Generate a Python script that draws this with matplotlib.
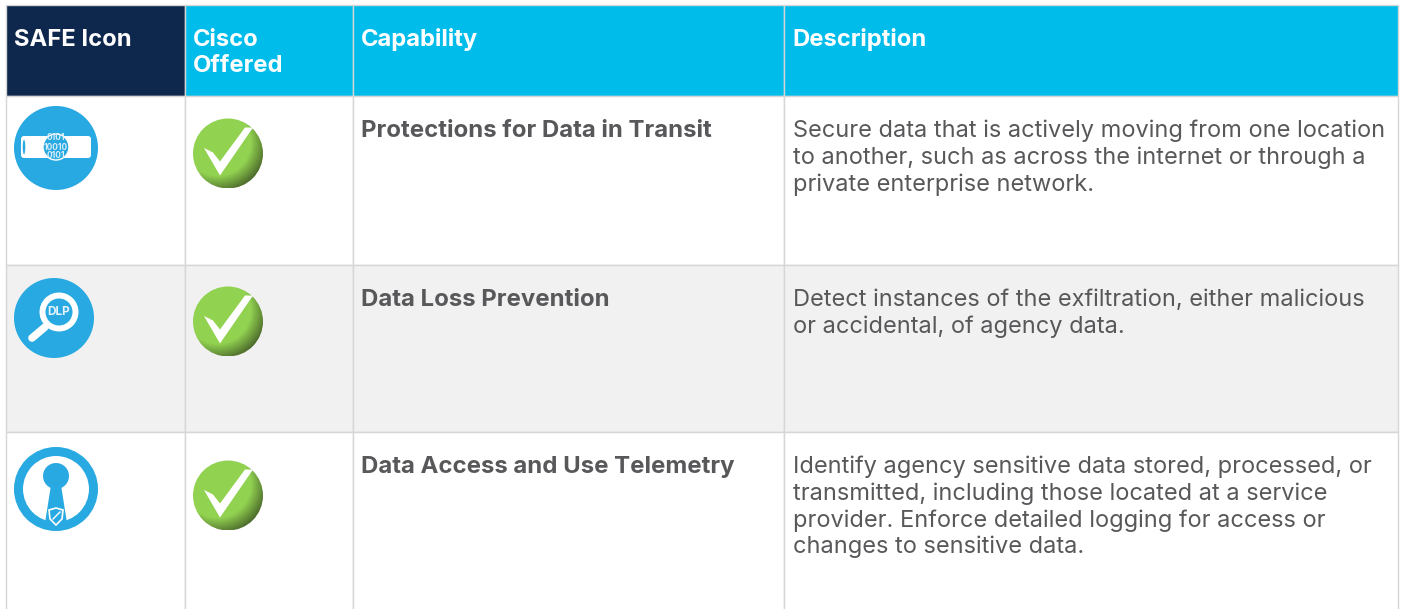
import numpy as np
import matplotlib
matplotlib.use('Agg')
import matplotlib.pyplot as plt
from matplotlib.patches import Circle, Rectangle, Polygon, Ellipse, FancyBboxPatch

# table content
headers = ['SAFE Icon', 'Cisco\nOffered', 'Capability', 'Description']
capabilities = ['Protections for Data in Transit', 'Data Loss Prevention', 'Data Access and Use Telemetry']
descriptions = [
    'Secure data that is actively moving from one location\nto another, such as across the internet or through a\nprivate enterprise network.',
    'Detect instances of the exfiltration, either malicious\nor accidental, of agency data.',
    'Identify agency sensitive data stored, processed, or\ntransmitted, including those located at a service\nprovider. Enforce detailed logging for access or\nchanges to sensitive data.',
]
offered = [True, True, True]

# layout in pixels
col_x = [6, 185, 353, 784, 1398]
row_y = [5, 96, 265, 432, 612]
row_fill = ['white', '#f1f1f1', 'white']
cap_y = [137, 306, 473]
desc_y = [137.5, 306, 473.5]
check_y = [153.5, 321.5, 495.5]

NAVY = '#0d274d'
CYAN = '#00bceb'
BLUE = '#29a9e1'
GRID = '#d6d6d6'
TEXT = '#58585b'

plt.rcParams['font.family'] = ['Inter', 'DejaVu Sans']

fig = plt.figure(figsize=(14.03, 6.09), dpi=100)
ax = fig.add_axes([0, 0, 1, 1])
ax.axis('off')


def cell(x0, x1, y0, y1, color):
    ax.add_patch(Rectangle((x0, y0), x1 - x0, y1 - y0, fc=color, ec=GRID, lw=1.0, zorder=1))


def check_icon(cx, cy, r=35):
    # shaded green ball, darker towards lower right
    n = 160
    xs, ys = np.meshgrid(np.linspace(-1, 1, n), np.linspace(-1, 1, n))
    d = np.hypot(xs + 0.3, ys + 0.3)
    t = np.clip((d - 0.95) / 0.48, 0, 1)[..., None]
    light = np.array([0.573, 0.827, 0.318])
    dark = np.array([0.30, 0.42, 0.17])
    img = light * (1 - t) + dark * t
    im = ax.imshow(img, extent=(cx - r, cx + r, cy + r, cy - r), zorder=3, interpolation='bilinear')
    im.set_clip_path(Circle((cx, cy), r, transform=ax.transData))
    pts = [(-24, -5.5), (-15, -1), (-8, 8), (17, -26), (25, -26), (-8, 22)]
    ax.add_patch(Polygon([(cx + a, cy + b) for a, b in pts], fc='white', ec='none', zorder=4))


def pipe_icon(cx, cy, r=42):
    ax.add_patch(Circle((cx, cy), r, fc=BLUE, ec='none', zorder=3))
    ax.add_patch(FancyBboxPatch((cx - 35, cy - 12), 70, 22, boxstyle='round,pad=0,rounding_size=3',
                                fc='white', ec='none', zorder=4))
    ax.add_patch(Ellipse((cx - 32, cy - 1), 4, 17, fc=BLUE, ec='white', lw=1, zorder=5))
    ax.add_patch(Circle((cx, cy - 1), 13, fc=BLUE, ec='white', lw=1.0, zorder=5))
    ax.text(cx, cy - 1, '0101\n10010\n0101', color='#d8eefa', fontsize=6, weight='bold', ha='center',
            va='center', linespacing=1.0, zorder=6)


def dlp_icon(cx, cy, r=40):
    ax.add_patch(Circle((cx, cy), r, fc=BLUE, ec='none', zorder=3))
    ax.plot([cx - 22, cx - 9], [cy + 20, cy + 9], color='white', lw=5.5, solid_capstyle='round', zorder=4)
    ax.add_patch(Circle((cx + 5, cy - 6), 16.5, fc=BLUE, ec='white', lw=4.3, zorder=5))
    ax.text(cx + 5, cy - 6, 'DLP', color='#e8f4fb', fontsize=8.5, weight='bold', ha='center', va='center', zorder=6)


def key_icon(cx, cy, r=42):
    ax.add_patch(Circle((cx, cy), r, fc='white', ec='none', zorder=3))
    ax.add_patch(Circle((cx, cy), r - 4.5, fc='none', ec=BLUE, lw=6.5, zorder=5))
    ax.add_patch(Circle((cx, cy - 13), 13, fc=BLUE, ec='none', zorder=4))
    ax.add_patch(Polygon([(cx - 5, cy - 4), (cx + 5, cy - 4), (cx + 11, cy + 34), (cx - 11, cy + 34)],
                         fc=BLUE, ec='none', zorder=4))
    shield = [(cx - 7, cy + 21), (cx, cy + 19), (cx + 7, cy + 21), (cx + 6, cy + 30), (cx, cy + 36),
              (cx - 6, cy + 30)]
    ax.add_patch(Polygon(shield, fc=BLUE, ec='white', lw=1.2, zorder=6))
    ax.plot([cx - 3, cx + 4], [cy + 30, cy + 23], color='white', lw=1, zorder=7)


# header row
for i, h in enumerate(headers):
    cell(col_x[i], col_x[i + 1], row_y[0], row_y[1], NAVY if i == 0 else CYAN)
    for j, line in enumerate(h.split('\n')):
        ax.text(col_x[i] + 8, 46 + j * 26, line, color='white', fontsize=17.1, weight='bold',
                ha='left', va='baseline', zorder=5)

# body rows
for r in range(3):
    for c in range(4):
        cell(col_x[c], col_x[c + 1], row_y[r + 1], row_y[r + 2], row_fill[r])
    ax.text(col_x[2] + 8, cap_y[r], capabilities[r], color=TEXT, fontsize=17.25,
            weight='bold', ha='left', va='baseline', zorder=5)
    for j, line in enumerate(descriptions[r].split('\n')):
        ax.text(col_x[3] + 9, desc_y[r] + j * 26.5, line, color=TEXT, fontsize=16.95, ha='left',
                va='baseline', zorder=5)
    if offered[r]:
        check_icon(228, check_y[r])

pipe_icon(56, 148)
dlp_icon(54, 318)
key_icon(56, 489)

ax.set_xlim(0, 1403)
ax.set_ylim(609, 0)
ax.set_aspect('auto')
fig.savefig('out.png', dpi=100, facecolor='white')
